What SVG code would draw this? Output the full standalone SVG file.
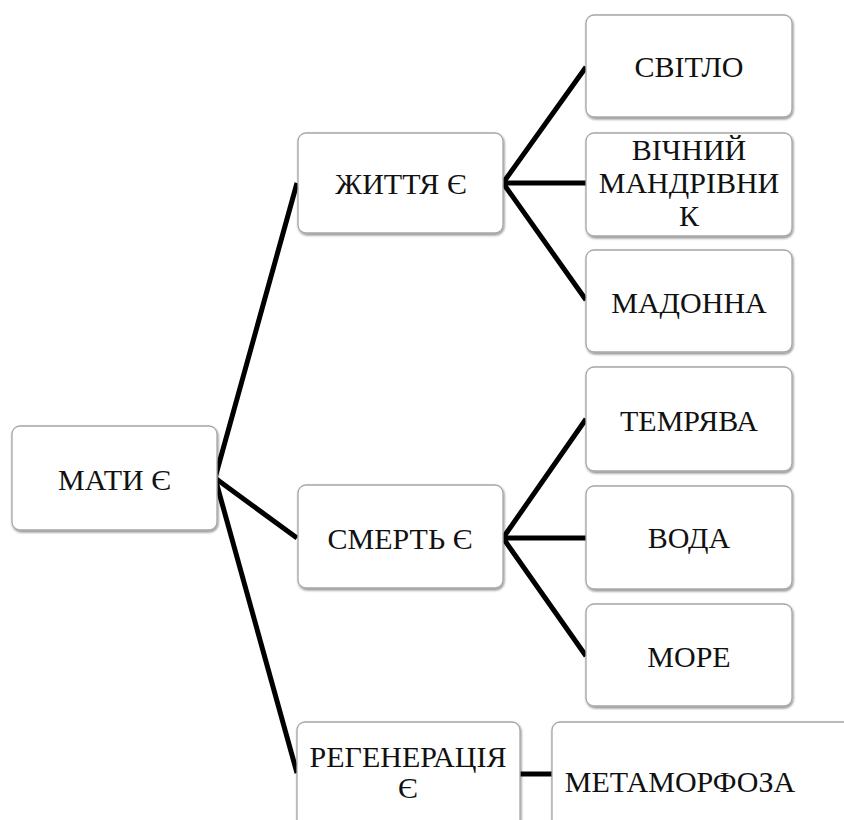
<svg xmlns="http://www.w3.org/2000/svg" width="844" height="820" viewBox="0 0 844 820">
  <defs>
    <filter id="shadow" x="-5%" y="-5%" width="110%" height="115%">
      <feDropShadow dx="0.8" dy="1.6" stdDeviation="0.8" flood-color="#000" flood-opacity="0.45"/>
    </filter>
  </defs>
  <style>
    .box { fill: #ffffff; stroke: #a6a6a6; stroke-width: 1.3; filter: url(#shadow); }
    .label { font-size: 30px; fill: #111; text-anchor: middle; }
    .link { fill: none; stroke: #000; stroke-width: 5; stroke-linejoin: miter; stroke-linecap: butt; }
  </style>
  <rect width="844" height="820" fill="#ffffff"/>

  <!-- connectors -->
  <g id="connectors">
    <polyline class="link" points="297,183 215,478 297,538"/>
    <polyline class="link" points="215,478 297,773"/>
    <polyline class="link" points="586,67 503,183 586,300"/>
    <line class="link" x1="503" y1="183" x2="586" y2="183"/>
    <polyline class="link" points="586,419 503,538 586,656"/>
    <line class="link" x1="503" y1="538" x2="586" y2="538"/>
    <line class="link" x1="520" y1="774" x2="552" y2="774"/>
  </g>

  <!-- root -->
  <g id="node-maty">
    <rect class="box" x="12" y="426" width="205" height="104" rx="8"/>
    <text class="label" font-family="Liberation Serif" x="114.5" y="490">МАТИ Є</text>
  </g>

  <!-- second level -->
  <g id="node-zhyttia">
    <rect class="box" x="298" y="133" width="205" height="100" rx="8"/>
    <text class="label" font-family="Liberation Serif" x="401" y="194">ЖИТТЯ Є</text>
  </g>
  <g id="node-smert">
    <rect class="box" x="298" y="485" width="205" height="103" rx="8"/>
    <text class="label" font-family="Liberation Serif" x="400" y="549">СМЕРТЬ Є</text>
  </g>
  <g id="node-regeneratsiia">
    <rect class="box" x="297" y="722" width="223" height="110" rx="8"/>
    <text class="label" font-family="Liberation Serif" x="408" y="767">РЕГЕНЕРАЦІЯ</text>
    <text class="label" font-family="Liberation Serif" x="408" y="798">Є</text>
  </g>

  <!-- third level -->
  <g id="node-svitlo">
    <rect class="box" x="586" y="15" width="206" height="102" rx="8"/>
    <text class="label" font-family="Liberation Serif" x="689" y="77">СВІТЛО</text>
  </g>
  <g id="node-mandrivnyk">
    <rect class="box" x="586" y="133" width="206" height="103" rx="8"/>
    <text class="label" font-family="Liberation Serif" x="689" y="160">ВІЧНИЙ</text>
    <text class="label" font-family="Liberation Serif" x="689" y="193">МАНДРІВНИ</text>
    <text class="label" font-family="Liberation Serif" x="689" y="226">К</text>
  </g>
  <g id="node-madonna">
    <rect class="box" x="586" y="250" width="206" height="102" rx="8"/>
    <text class="label" font-family="Liberation Serif" x="689" y="313">МАДОННА</text>
  </g>
  <g id="node-temriava">
    <rect class="box" x="586" y="367" width="206" height="104" rx="8"/>
    <text class="label" font-family="Liberation Serif" x="689" y="431">ТЕМРЯВА</text>
  </g>
  <g id="node-voda">
    <rect class="box" x="586" y="486" width="206" height="103" rx="8"/>
    <text class="label" font-family="Liberation Serif" x="689" y="548">ВОДА</text>
  </g>
  <g id="node-more">
    <rect class="box" x="586" y="604" width="206" height="102" rx="8"/>
    <text class="label" font-family="Liberation Serif" x="689" y="667">МОРЕ</text>
  </g>
  <g id="node-metamorfoza">
    <rect class="box" x="552" y="722" width="310" height="110" rx="8"/>
    <text class="label" font-family="Liberation Serif" x="680" y="792">МЕТАМОРФОЗА</text>
  </g>
</svg>
